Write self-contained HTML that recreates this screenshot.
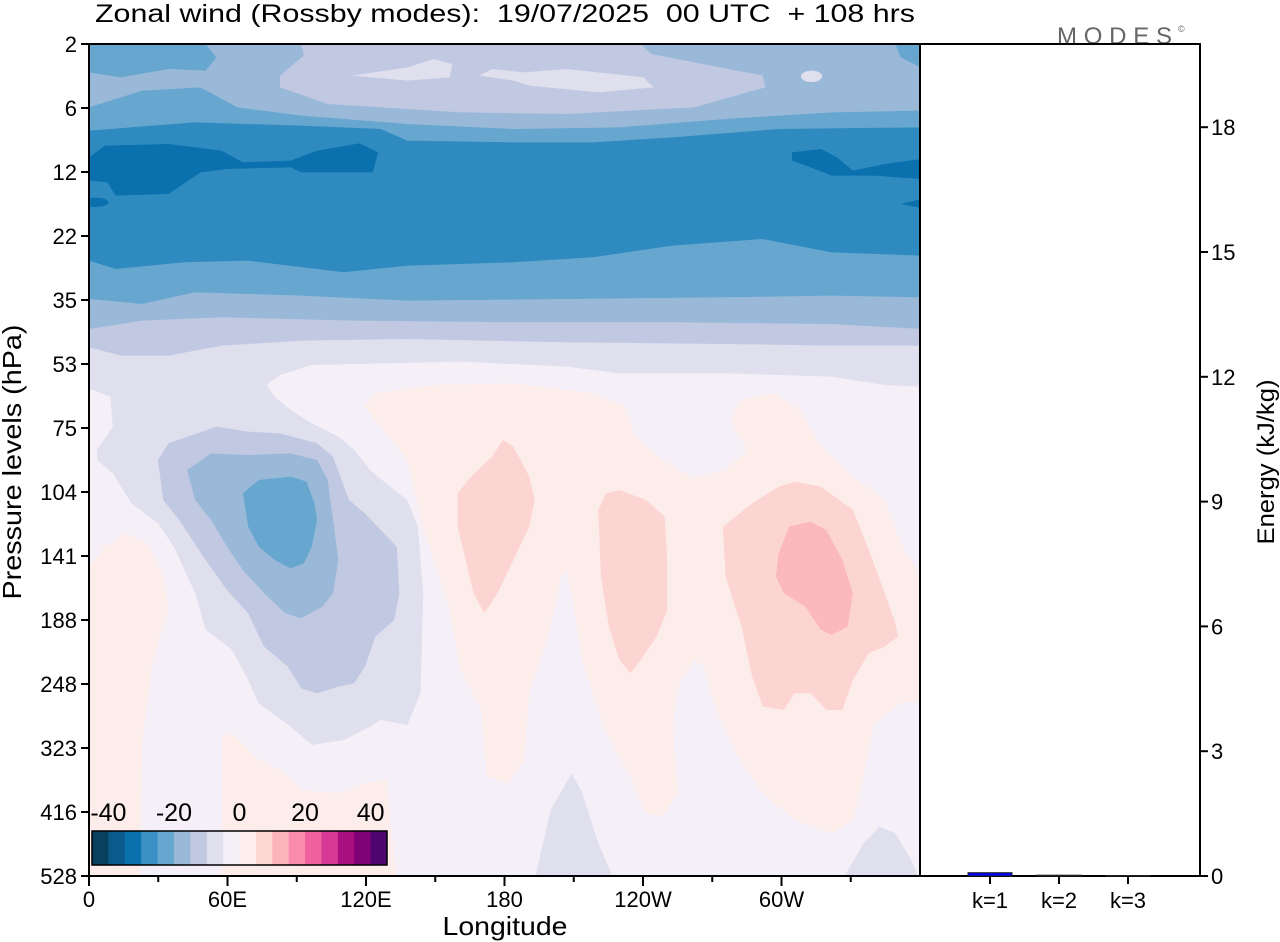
<!DOCTYPE html>
<html><head><meta charset="utf-8"><style>
html,body{margin:0;padding:0;background:#fff;}
svg{display:block;font-family:"Liberation Sans",sans-serif;}
</style></head><body>
<svg id="chart" width="1280" height="942" viewBox="0 0 1280 942">
<defs><clipPath id="pc"><rect x="89" y="44" width="831" height="832"/></clipPath></defs>
<text x="95" y="22" font-size="25" textLength="820" lengthAdjust="spacingAndGlyphs" xml:space="preserve">Zonal wind (Rossby modes):  19/07/2025  00 UTC  + 108 hrs</text>
<text x="1057" y="44" font-size="24" fill="#666" textLength="115" lengthAdjust="spacing">MODES</text>
<text x="1178" y="32" font-size="9" fill="#666">©</text>
<g clip-path="url(#pc)">
<rect x="89" y="44" width="831" height="832" fill="#f5f0f7"/>
<g transform="translate(89,44) scale(0.5305,0.3333)">
<path fill="#dfdfee" d="M0 0H1568V1050H0Z"/>
<path fill="#c0c8e2" d="M0 0H1568V905L1400 905 1200 900 900 895 600 885 400 890 250 905 150 935 60 935 0 910Z"/>
<path fill="#9ab9d8" d="M0 0H1568V855L1400 840 1100 835 800 835 500 830 250 820 100 830 0 855Z"/>
<path fill="#67a7cf" d="M0 0H1568V760L1400 755 1200 760 900 765 600 770 400 755 200 745 100 780 0 765Z"/>
<path fill="#2f8bbf" d="M0 260L200 235 400 245 550 255 600 290 800 295 950 295 1100 280 1300 255 1568 250V635L1400 625 1270 585 1100 605 950 640 800 655 600 665 480 685 300 650 180 655 50 675 0 650Z"/>
<path fill="#9ab9d8" d="M0 0H1568V200L1400 205 1200 225 1000 250 800 255 600 240 400 215 280 190 210 130 100 140 0 190Z"/>
<path fill="#67a7cf" d="M0 0H220L240 40 220 80 150 75 60 100 0 85Z"/>
<path fill="#67a7cf" d="M1520 0H1568V70L1530 40Z"/>
<path fill="#c0c8e2" d="M400 0H1040L1060 30 1270 95 1275 130 1140 190 900 210 700 205 450 180 360 130 360 95 405 35Z"/>
<path fill="#dfdfee" d="M495 95L600 70 650 45 685 60 680 100 600 110Z"/>
<path fill="#dfdfee" d="M735 95L760 75 820 85 900 75 1045 100 1065 130 960 145 830 125 800 110Z"/>
<ellipse fill="#dfdfee" cx="1362" cy="97" rx="20" ry="17"/>
<path fill="#0b70ae" d="M0 340L30 305 150 300 250 320 290 355 380 350 430 320 510 298 545 325 535 385 400 385 380 370 260 375 210 385 150 450 50 455 35 415 0 410Z"/>
<ellipse fill="#0b70ae" cx="12" cy="475" rx="25" ry="14"/>
<path fill="#0b70ae" d="M1325 325L1380 315 1410 340 1440 380 1500 360 1568 345V405L1480 395 1400 395 1360 370 1325 350Z"/>
<path fill="#0b70ae" d="M1530 480L1568 465V492Z"/>
</g>
<g transform="translate(89,360) scale(0.5305,0.3333)">
<rect x="0" y="0" width="1568" height="1560" fill="#f5f0f7"/>
<path fill="#dfdfee" d="M0 0H1568V80L1500 75 1400 50 1200 40 1000 40 900 20 700 5 420 15 360 45 335 75 350 110 380 150 420 190 470 230 500 270 530 330 560 370 600 420 620 500 630 700 625 1000 600 1095 550 1080 530 1100 480 1140 420 1155 380 1100 320 1030 300 960 270 870 220 810 200 700 160 560 130 490 80 430 45 340 15 300 15 270 45 200 40 110 0 85Z"/>
<path fill="#c0c8e2" d="M130 300L150 250 240 200 300 215 360 220 430 250 460 290 490 420 520 460 550 510 580 560 585 700 575 780 540 830 520 920 500 970 470 980 430 1000 400 985 375 920 330 860 300 760 260 690 220 600 170 480 140 420Z"/>
<path fill="#9ab9d8" d="M185 330L230 280 300 285 380 280 430 300 450 360 460 480 470 600 460 700 440 740 400 775 370 760 330 700 290 630 260 560 230 480 200 420Z"/>
<path fill="#67a7cf" d="M290 400L320 360 380 350 410 365 425 430 430 480 420 560 405 610 380 625 350 600 320 560 300 500Z"/>
<path fill="#fdedea" d="M520 140L540 100 650 75 800 70 950 100 1010 140 1030 230 1080 300 1140 355 1200 330 1240 270 1210 180 1230 120 1290 100 1340 150 1380 260 1440 350 1500 420 1530 550 1568 650V1020L1530 1030 1480 1090 1460 1250 1440 1380 1400 1420 1330 1380 1270 1300 1220 1180 1180 1040 1160 920 1140 900 1110 980 1100 1100 1110 1300 1080 1370 1050 1360 1020 1250 970 1100 930 900 910 700 900 630 890 650 870 800 830 1000 820 1200 790 1270 750 1250 740 1050 700 930 680 750 630 500 600 300 560 220Z"/>
<path fill="#fdedea" d="M0 620L30 560 70 520 110 550 140 650 150 750 120 900 100 1150 95 1560H0Z"/>
<path fill="#fdedea" d="M250 1130L270 1120 320 1200 370 1240 400 1290 470 1300 520 1270 560 1260 580 1560H250Z"/>
<path fill="#fcd5d3" d="M695 400L720 350 760 290 780 240 800 260 830 350 840 420 830 500 800 600 770 700 745 760 725 700 710 600 695 500Z"/>
<path fill="#fcd5d3" d="M960 450L975 400 1000 390 1050 420 1085 470 1090 600 1090 750 1070 830 1040 900 1020 940 1000 900 980 800 965 650Z"/>
<path fill="#fcd5d3" d="M1195 500L1250 430 1300 380 1330 365 1380 380 1440 450 1470 570 1500 700 1520 790 1525 830 1500 860 1470 880 1440 960 1420 1050 1390 1050 1360 1000 1330 1000 1310 1050 1270 1040 1250 950 1230 800 1200 650Z"/>
<path fill="#fbb8bd" d="M1300 580L1320 500 1360 485 1390 510 1420 600 1440 700 1430 800 1400 825 1380 810 1350 740 1310 700 1295 650Z"/>
<path fill="#dfdfee" d="M840 1560L870 1350 910 1240 930 1300 960 1450 990 1560Z"/>
<path fill="#dfdfee" d="M1420 1560L1460 1450 1490 1400 1520 1420 1550 1500 1565 1560Z"/>
</g>
</g>
<rect x="89" y="44" width="831" height="832" fill="none" stroke="#000" stroke-width="2"/>
<rect x="920" y="44" width="280" height="832" fill="none" stroke="#000" stroke-width="2"/>
<g id="colorbar"></g>
<g id="axes"></g>
<text x="505" y="935" font-size="26" text-anchor="middle" textLength="125" lengthAdjust="spacingAndGlyphs">Longitude</text>
<text transform="translate(21,462) rotate(-90)" font-size="26" text-anchor="middle" textLength="275" lengthAdjust="spacingAndGlyphs">Pressure levels (hPa)</text>
<text transform="translate(1274,462) rotate(-90)" font-size="24" text-anchor="middle" textLength="165" lengthAdjust="spacingAndGlyphs">Energy (kJ/kg)</text>
</svg>
<script>
const pressureLevels=["2","6","12","22","35","53","75","104","141","188","248","323","416","528"];
const lonTicks=[0,60,120,180,240,300];
const lonLabels=["0","60E","120E","180","120W","60W"];
const energyTicks=[0,3,6,9,12,15,18];
const modes=["k=1","k=2","k=3"];
const energy=[0.08,0.02,0.01];
const cbColors=["#08405e","#0b5a8c","#0b70ae","#3a8fc4","#67a7cf","#9ab9d8","#c0c8e2","#dfdfee","#f5f0f7","#fff0ee","#fdd5d3","#fbb3bc","#f98cae","#f0609f","#d73a96","#aa0f80","#7f0377","#4f0570"];
const cbLabels=["-40","-20","0","20","40"];
const NS="http://www.w3.org/2000/svg";
const ax=document.getElementById('axes');
function mk(tag,at,parent,txt){const e=document.createElementNS(NS,tag);for(const k in at)e.setAttribute(k,at[k]);if(txt!=null)e.textContent=txt;(parent||ax).appendChild(e);return e;}
const yPos=i=>44+i*64;
const xPos=lon=>89+lon*(831/360);
const eY=v=>876-v*41.6;
pressureLevels.forEach((p,i)=>{
 const t=mk('line',{x1:81,x2:89,y1:yPos(i),y2:yPos(i),stroke:'#000','stroke-width':2});
 
 
 const l=mk('text',{x:77,y:yPos(i)+8,'font-size':22,'text-anchor':'end'},null,p);
 
 
});
for(let lon=0;lon<360;lon+=30){
 const major=lon%60===0;
 const t=mk('line',{x1:xPos(lon),x2:xPos(lon),y1:876,y2:major?886:882,stroke:'#000','stroke-width':2});
 
 
}
lonTicks.forEach((lon,i)=>{
 const l=mk('text',{x:xPos(lon),y:907,'font-size':22,'text-anchor':'middle'},null,lonLabels[i]);
 
 
});
energyTicks.forEach(v=>{
 const t=mk('line',{x1:1200,x2:1208,y1:eY(v),y2:eY(v),stroke:'#000','stroke-width':2});
 
 
 const l=mk('text',{x:1211,y:eY(v)+8,'font-size':22},null,String(v));
 
 
});
modes.forEach((m,i)=>{
 const cx=990+i*69;
 const h=Math.max(energy[i]*41.6,0.5);
 const b=mk('rect',{x:cx-22,y:876-h,width:44,height:h,fill:'#0000ff',stroke:'#222','stroke-width':1});
 
 
 const t=mk('line',{x1:cx,x2:cx,y1:876,y2:884,stroke:'#000','stroke-width':2});
 
 
 const l=mk('text',{x:cx,y:908,'font-size':22,'text-anchor':'middle'},null,m);
 
 
});
const cb=document.getElementById('colorbar');
const cbx=92,cbw=295,cby=831,cbh=34,sw=cbw/cbColors.length;
cbColors.forEach((c,i)=>{
 const r=mk('rect',{x:cbx+i*sw,y:cby,width:sw+0.5,height:cbh,fill:c},cb);
 
 
});
const fr=mk('rect',{x:cbx,y:cby,width:cbw,height:cbh,fill:'none',stroke:'#000','stroke-width':1.5},cb);


cbLabels.forEach((t,i)=>{
 const l=mk('text',{x:cbx+i*4*sw+sw,y:821,'font-size':25,'text-anchor':'middle'},cb,t);
 
 
});
</script>
</body></html>
